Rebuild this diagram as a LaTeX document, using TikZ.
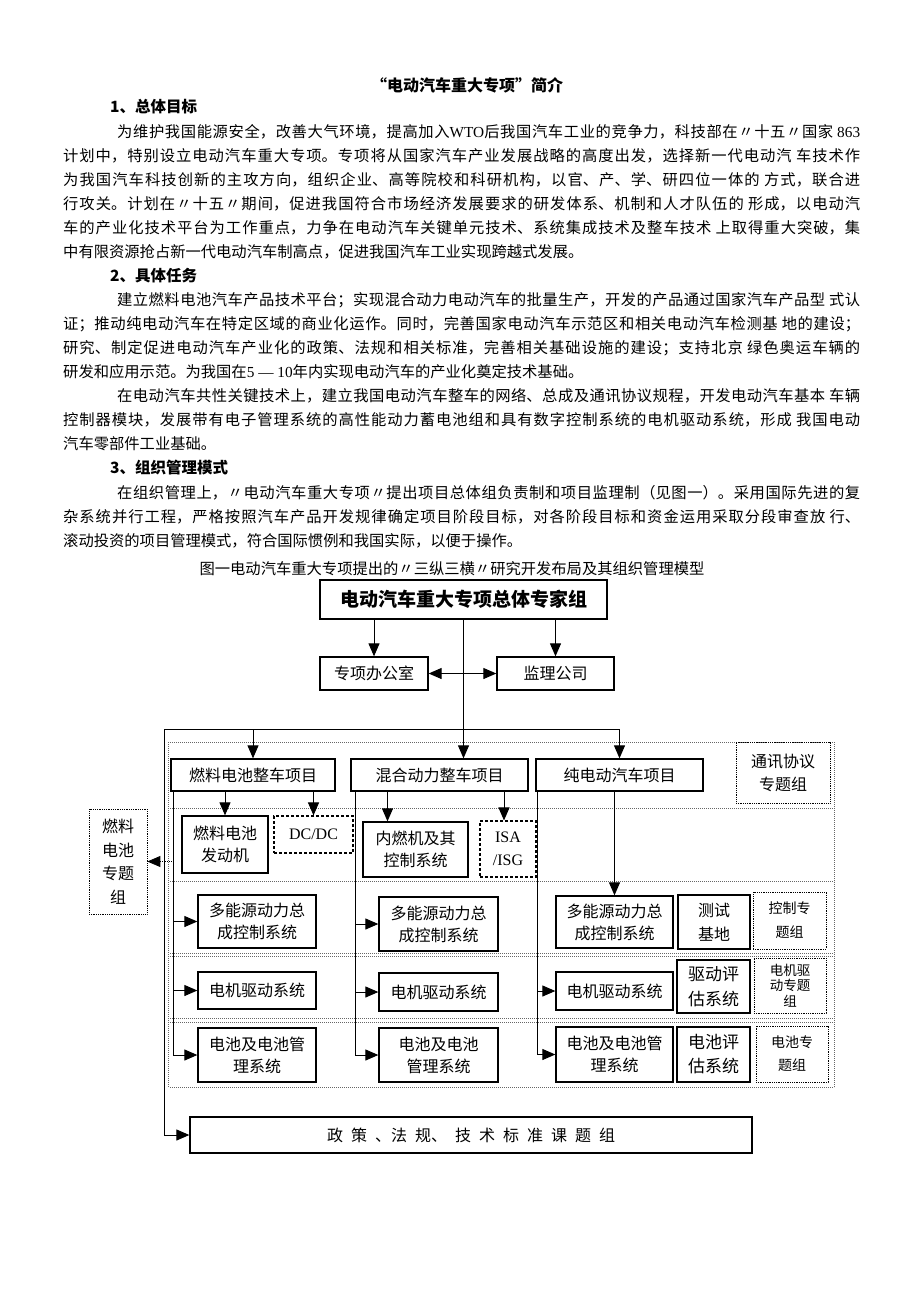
\documentclass[tikz,border=0pt]{standalone}
\usepackage{fontspec}
\setmainfont{Noto Sans CJK SC}
\newfontfamily\serif{Liberation Serif}
\usetikzlibrary{arrows.meta,calc}
\XeTeXlinebreaklocale "zh"
\XeTeXlinebreakskip=0pt plus 2pt
\begin{document}
\begin{tikzpicture}[x=1pt,y=-1pt,
 every node/.style={inner sep=0pt},
 body/.style={font=\fontsize{15.3}{24}\selectfont},
 head/.style={font=\fontsize{15.5}{24}\selectfont\bfseries},
 para/.style={body, anchor=north west, text width=797pt, align=justify},
 box/.style={draw, line width=1.3pt, align=center, font=\fontsize{16}{22}\selectfont},
 dbox/.style={box, line width=1.1pt, dash pattern=on 3pt off 2pt},
 gbox/.style={draw, line width=0.7pt, dash pattern=on 0.8pt off 1pt, align=center, font=\fontsize{14}{24}\selectfont},
 band/.style={draw=black!60, line width=0.6pt, dash pattern=on 0.8pt off 1.2pt},
 conn/.style={line width=1pt},
 tip/.tip={Triangle[length=13pt,width=11pt]},
 arr/.style={conn, -tip},
 arrr/.style={conn, tip-tip},
 dotarr/.style={line width=0.8pt, dash pattern=on 0.8pt off 1pt, -{Triangle[length=13pt,width=11pt,sep=0pt]}}
]
\path[use as bounding box] (0,0) rectangle (920,1302);

% ---------- text ----------
\node[font=\fontsize{16}{24}\selectfont\bfseries, anchor=base] (title) at (467,91) {“电动汽车重大专项”简介};
\node[head, anchor=base west] (h1) at (110,112) {1、总体目标};
\node[para] (p1) at (63,120) {\hspace*{54pt}\rule{0pt}{17pt}为维护我国能源安全，改善大气环境，提高加入{\serif WTO}后我国汽车工业的竞争力，科技部在〃十五〃国家 {\serif 863}\linebreak
计划中，特别设立电动汽车重大专项。专项将从国家汽车产业发展战略的高度出发，选择新一代电动汽 车技术作\linebreak
为我国汽车科技创新的主攻方向，组织企业、高等院校和科研机构，以官、产、学、研四位一体的 方式，联合进\linebreak
行攻关。计划在〃十五〃期间，促进我国符合市场经济发展要求的研发体系、机制和人才队伍的 形成，以电动汽\linebreak
车的产业化技术平台为工作重点，力争在电动汽车关键单元技术、系统集成技术及整车技术 上取得重大突破，集\linebreak
中有限资源抢占新一代电动汽车制高点，促进我国汽车工业实现跨越式发展。};

\node[head, anchor=base west] (h2) at (110,281) {2、具体任务};
\node[para] (p2) at (63,288) {\hspace*{54pt}\rule{0pt}{17pt}建立燃料电池汽车产品技术平台；实现混合动力电动汽车的批量生产，开发的产品通过国家汽车产品型 式认\linebreak
证；推动纯电动汽车在特定区域的商业化运作。同时，完善国家电动汽车示范区和相关电动汽车检测基 地的建设；\linebreak
研究、制定促进电动汽车产业化的政策、法规和相关标准，完善相关基础设施的建设；支持北京 绿色奥运车辆的\linebreak
研发和应用示范。为我国在{\serif 5 — 10}年内实现电动汽车的产业化奠定技术基础。};
\node[para] (p3) at (63,384) {\hspace*{54pt}\rule{0pt}{17pt}在电动汽车共性关键技术上，建立我国电动汽车整车的网络、总成及通讯协议规程，开发电动汽车基本 车辆\linebreak
控制器模块，发展带有电子管理系统的高性能动力蓄电池组和具有数字控制系统的电机驱动系统，形成 我国电动\linebreak
汽车零部件工业基础。};

\node[head, anchor=base west] (h3) at (110,473) {3、组织管理模式};
\node[para] (p4) at (63,481) {\hspace*{54pt}\rule{0pt}{17pt}在组织管理上，〃电动汽车重大专项〃提出项目总体组负责制和项目监理制（见图一）。采用国际先进的复\linebreak
杂系统并行工程，严格按照汽车产品开发规律确定项目阶段目标，对各阶段目标和资金运用采取分段审查放 行、\linebreak
滚动投资的项目管理模式，符合国际惯例和我国实际，以便于操作。};

\node[body, anchor=base] (cap) at (452,574) {图一电动汽车重大专项提出的〃三纵三横〃研究开发布局及其组织管理模型};

% ---------- dotted bands ----------
\draw[band] (170,742) -- (834,742);
\draw[band] (170,808) -- (834,808);
\draw[band] (170,881) -- (834,881);
\draw[band] (170,953) -- (834,953);
\draw[band] (170,956) -- (834,956);
\draw[band] (170,1018) -- (834,1018);
\draw[band] (170,1022) -- (834,1022);
\draw[band] (170,1087) -- (834,1087);
\draw[band] (168,742) -- (168,1087);
\draw[band] (834,742) -- (834,1087);

% ---------- diagram boxes ----------
\node[box, font=\fontsize{19}{24}\selectfont\bfseries, minimum width=287pt, minimum height=39pt] (top) at (463.5,599.5) {电动汽车重大专项总体专家组};
\node[box, minimum width=108pt, minimum height=33pt] (office) at (374,673.5) {专项办公室};
\node[box, minimum width=117pt, minimum height=33pt] (sup) at (555.5,673.5) {监理公司};

\node[box, minimum width=164pt, minimum height=32pt] (fc) at (253,775) {燃料电池整车项目};
\node[box, minimum width=177pt, minimum height=32pt] (hy) at (439.5,775) {混合动力整车项目};
\node[box, minimum width=167pt, minimum height=32pt] (pe) at (619.5,775) {纯电动汽车项目};
\node[gbox, font=\fontsize{16}{23}\selectfont, minimum width=94pt, minimum height=61pt] (comm) at (783,772.5) {通讯协议\\专题组};

\node[box, minimum width=86pt, minimum height=57pt] (fceng) at (225,844.5) {燃料电池\\发动机};
\node[dbox, font=\fontsize{16}{22}\serif, minimum width=79pt, minimum height=37pt] (dcdc) at (313.5,834.5) {DC/DC};
\node[box, minimum width=105pt, minimum height=55pt] (ice) at (415.5,849.5) {内燃机及其\\控制系统};
\node[dbox, font=\fontsize{16}{23}\serif, minimum width=56pt, minimum height=56pt] (isa) at (508,849) {ISA\\/ISG};
\node[gbox, font=\fontsize{16}{23.5}\selectfont, minimum width=58pt, minimum height=105pt] (fcgrp) at (118,861.5) {燃料\\电池\\专题\\组};

\node[box, minimum width=118pt, minimum height=53pt] (fcmulti) at (257,921.5) {多能源动力总\\成控制系统};
\node[box, minimum width=119pt, minimum height=54pt] (hymulti) at (438.5,924) {多能源动力总\\成控制系统};
\node[box, minimum width=117pt, minimum height=52pt] (pemulti) at (614.5,922) {多能源动力总\\成控制系统};
\node[box, font=\fontsize{16}{24}\selectfont, minimum width=72pt, minimum height=54pt] (test) at (714,922) {测试\\基地};
\node[gbox, minimum width=73pt, minimum height=57pt] (ctrlgrp) at (789.5,920.5) {控制专\\题组};

\node[box, minimum width=118pt, minimum height=37pt] (fcmotor) at (257,990.5) {电机驱动系统};
\node[box, minimum width=119pt, minimum height=38pt] (hymotor) at (438.5,992) {电机驱动系统};
\node[box, minimum width=117pt, minimum height=38pt] (pemotor) at (614.5,991) {电机驱动系统};
\node[box, font=\fontsize{17}{25}\selectfont, minimum width=73pt, minimum height=53pt] (drveval) at (713.5,986.5) {驱动评\\估系统};
\node[gbox, font=\fontsize{13.5}{15.5}\selectfont, minimum width=72pt, minimum height=55pt] (motgrp) at (790,985.5) {电机驱\\动专题\\组};

\node[box, minimum width=118pt, minimum height=54pt] (fcbat) at (257,1055) {电池及电池管\\理系统};
\node[box, minimum width=119pt, minimum height=54pt] (hybat) at (438.5,1055) {电池及电池\\管理系统};
\node[box, minimum width=117pt, minimum height=55pt] (pebat) at (614.5,1054.5) {电池及电池管\\理系统};
\node[box, font=\fontsize{17}{24}\selectfont, minimum width=73pt, minimum height=55pt] (bateval) at (713.5,1054.5) {电池评\\估系统};
\node[gbox, font=\fontsize{14}{23}\selectfont, minimum width=72pt, minimum height=56pt] (batgrp) at (792,1054) {电池专\\题组};

\node[box, minimum width=562pt, minimum height=36pt] (policy) at (471,1135) {政\hspace{8pt}策\hspace{8pt}、法\hspace{8pt}规、\hspace{8pt}技\hspace{8pt}术\hspace{8pt}标\hspace{8pt}准\hspace{8pt}课\hspace{8pt}题\hspace{8pt}组};

% ---------- connectors ----------
\draw[arr] (top.south -| office.north) -- (office.north);
\draw[arr] (top.south -| sup.north) -- (sup.north);
\draw[arr] (top.south) -- (top.south |- hy.north);
\draw[arrr] (office.east) -- (sup.west);

\coordinate (tl) at (164,729);
\coordinate (tr) at (pe.north |- tl);
\draw[conn] (tr) -- (tl);
\draw[arr] (tl) |- (policy.west);
\draw[arr] (fc.north |- tl) -- (fc.north);
\draw[arr] (tr) -- (pe.north);

% fuel cell column
\coordinate (fcl) at ($(fc.south west)+(3,0)$);
\draw[arr] (fc.south -| fceng.north) -- (fceng.north);
\draw[arr] (fc.south -| dcdc.north) -- (dcdc.north);
\draw[arr] (fcl) |- (fcmulti.west);
\draw[arr] (fcl) |- (fcmotor.west);
\draw[arr] (fcl) |- (fcbat.west);
\draw[dotarr] (fcl |- fcgrp.east) -- (fcgrp.east);

% hybrid column
\coordinate (hyl) at ($(hy.south west)+(5,0)$);
\draw[arr] ([xshift=-28pt]ice.north |- hy.south) -- ([xshift=-28pt]ice.north);
\draw[arr] ([xshift=-4pt]isa.north |- hy.south) -- ([xshift=-4pt]isa.north);
\draw[arr] (hyl) |- (hymulti.west);
\draw[arr] (hyl) |- (hymotor.west);
\draw[arr] (hyl) |- (hybat.west);

% pure electric column
\coordinate (pel) at ($(pe.south west)+(2,0)$);
\draw[arr] (pemulti.north |- pe.south) -- (pemulti.north);
\draw[arr] (pel) |- (pemotor.west);
\draw[arr] (pel) |- (pebat.west);
\end{tikzpicture}
\end{document}
